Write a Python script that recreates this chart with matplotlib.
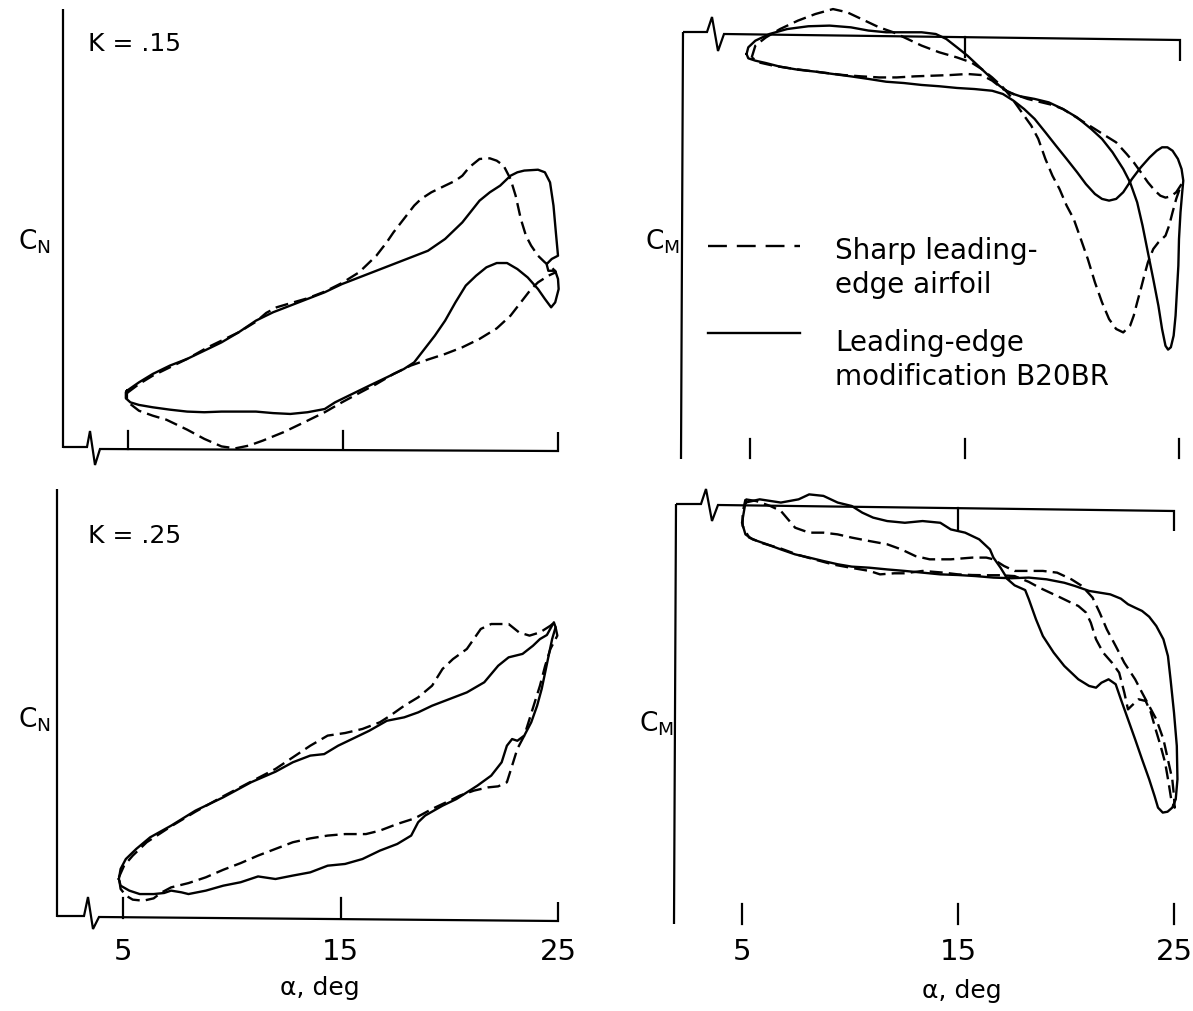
import matplotlib
matplotlib.use("Agg")
import matplotlib.pyplot as plt
from matplotlib.transforms import Affine2D, blended_transform_factory
from matplotlib.lines import Line2D

# ---------------- data (alpha in deg, coefficients in arbitrary units) ----------------
tick_alpha = [5, 15, 25]
tick_labels = ["5", "15", "25"]
legend_labels = ["Sharp leading-\nedge airfoil", "Leading-edge\nmodification B20BR"]
panel_titles = ["K = .15", "K = .25"]

# K = .15, normal force
tl_b20br_alpha = [4.95, 5.51, 6.15, 6.95, 7.75, 8.71, 9.35, 10.15, 10.95, 11.75, 12.55, 13.35, 14.15, 14.95,
                  15.75, 16.55, 17.35, 18.15, 18.95, 19.75, 20.55, 21.35, 21.83, 22.31, 22.79, 23.11, 23.43,
                  24.07, 24.39, 24.63, 24.79, 24.90, 25.00, 24.71, 24.47, 24.55, 24.87, 25.00, 25.03, 24.87,
                  24.68, 24.39, 24.07, 23.59, 23.11, 22.63, 22.15, 21.67, 21.19, 20.71, 20.23, 19.75, 19.27,
                  18.79, 18.31, 17.83, 17.03, 16.23, 15.43, 14.63, 14.15, 13.35, 12.55, 11.75, 10.95, 10.15,
                  9.35, 8.55, 7.75, 6.95, 6.15, 5.51, 5.11, 4.90, 4.90, 4.95]
tl_b20br_cn = [0.271, 0.310, 0.349, 0.388, 0.419, 0.465, 0.496, 0.543, 0.597, 0.636, 0.667, 0.698, 0.729, 0.767,
               0.798, 0.829, 0.860, 0.891, 0.922, 0.977, 1.054, 1.155, 1.194, 1.225, 1.271, 1.287, 1.295,
               1.299, 1.287, 1.240, 1.132, 1.008, 0.899, 0.884, 0.860, 0.829, 0.829, 0.791, 0.744, 0.682,
               0.659, 0.698, 0.744, 0.798, 0.837, 0.865, 0.865, 0.845, 0.806, 0.760, 0.682, 0.597, 0.527,
               0.465, 0.403, 0.372, 0.333, 0.295, 0.256, 0.217, 0.186, 0.171, 0.163, 0.167, 0.174, 0.174,
               0.174, 0.171, 0.174, 0.183, 0.194, 0.205, 0.217, 0.236, 0.264, 0.271]

tl_sharp_alpha = [4.95, 5.51, 6.15, 6.95, 7.75, 8.71, 9.35, 10.15, 10.95, 11.43, 11.91, 12.55, 13.35, 14.15,
                  14.95, 15.75, 16.55, 17.03, 17.35, 17.83, 18.31, 18.63, 19.11, 19.75, 20.23, 20.55, 20.87,
                  21.35, 21.83, 22.15, 22.47, 22.79, 23.03, 23.27, 23.51, 23.75, 24.07, 24.39, 24.71, 24.90,
                  24.55, 24.07, 23.75, 23.27, 22.79, 22.15, 21.35, 20.55, 19.75, 18.95, 18.15, 17.35, 16.55,
                  15.75, 14.95, 14.15, 13.19, 12.23, 11.27, 10.63, 9.99, 9.35, 8.55, 7.75, 6.79, 6.15, 5.51,
                  5.11, 4.95, 4.95]
tl_sharp_cn = [0.260, 0.302, 0.341, 0.380, 0.419, 0.473, 0.504, 0.543, 0.592, 0.633, 0.659, 0.678, 0.701, 0.732,
               0.772, 0.822, 0.899, 0.961, 1.008, 1.070, 1.132, 1.163, 1.194, 1.225, 1.248, 1.271, 1.310,
               1.349, 1.352, 1.341, 1.318, 1.256, 1.178, 1.070, 0.992, 0.946, 0.899, 0.868, 0.845, 0.822,
               0.806, 0.775, 0.744, 0.682, 0.620, 0.561, 0.512, 0.473, 0.442, 0.416, 0.388, 0.349, 0.302,
               0.260, 0.217, 0.171, 0.124, 0.078, 0.039, 0.016, 0.003, 0.012, 0.047, 0.090, 0.136, 0.155,
               0.178, 0.209, 0.233, 0.260]

# K = .15, pitching moment
tr_sharp_alpha = [5.08, 5.25, 5.74, 6.40, 7.23, 8.05, 8.87, 9.53, 10.19, 11.02, 11.68, 12.34, 13.00, 13.82,
                  14.65, 15.31, 15.80, 16.29, 16.79, 17.12, 17.45, 17.78, 18.11, 18.44, 18.77, 19.10, 19.43,
                  19.76, 20.09, 20.42, 20.75, 21.08, 21.41, 21.74, 22.07, 22.40, 22.72, 22.89, 23.05, 23.22,
                  23.38, 23.55, 23.80, 24.04, 24.37, 24.54, 24.70, 24.87, 25.03, 25.12, 24.87, 24.62, 24.37,
                  24.13, 23.88, 23.55, 23.22, 22.89, 22.56, 22.07, 21.57, 21.08, 20.58, 20.09, 19.59, 19.10,
                  18.60, 17.94, 17.28, 16.79, 16.29, 15.80, 15.14, 14.32, 13.49, 12.67, 11.84, 11.02, 10.19,
                  9.37, 8.54, 7.72, 6.90, 6.07, 5.41, 5.08]
tr_sharp_cm = [-0.109, -0.054, -0.016, 0.023, 0.062, 0.093, 0.116, 0.101, 0.070, 0.031, 0.008, -0.023, -0.054,
               -0.085, -0.109, -0.132, -0.163, -0.202, -0.248, -0.287, -0.333, -0.380, -0.426, -0.488, -0.581,
               -0.659, -0.721, -0.798, -0.860, -0.953, -1.047, -1.155, -1.248, -1.326, -1.372, -1.388, -1.357,
               -1.310, -1.248, -1.186, -1.124, -1.062, -1.000, -0.969, -0.938, -0.891, -0.829, -0.767, -0.721,
               -0.698, -0.736, -0.755, -0.761, -0.752, -0.729, -0.690, -0.643, -0.597, -0.558, -0.504, -0.473,
               -0.442, -0.411, -0.380, -0.349, -0.330, -0.318, -0.302, -0.279, -0.256, -0.217, -0.191, -0.186,
               -0.191, -0.194, -0.197, -0.202, -0.202, -0.197, -0.191, -0.181, -0.171, -0.160, -0.147, -0.132,
               -0.109]

tr_b20br_alpha = [4.84, 4.92, 5.25, 5.91, 6.73, 7.72, 8.71, 9.70, 10.52, 11.35, 12.34, 13.00, 13.66, 14.15,
                  14.65, 15.14, 15.63, 16.13, 16.62, 17.04, 17.61, 18.27, 18.93, 19.59, 20.25, 20.91, 21.41,
                  21.90, 22.40, 22.72, 23.05, 23.30, 23.55, 23.80, 24.04, 24.21, 24.37, 24.49, 24.62, 24.75,
                  24.84, 24.90, 24.97, 25.00, 25.07, 25.15, 25.20, 25.12, 24.95, 24.70, 24.46, 24.21, 23.96,
                  23.63, 23.22, 22.81, 22.40, 22.07, 21.74, 21.41, 21.08, 20.66, 20.25, 19.76, 19.26, 18.77,
                  18.27, 17.78, 17.28, 16.79, 16.29, 15.47, 14.65, 13.82, 13.00, 12.17, 11.35, 10.52, 9.70,
                  8.87, 8.05, 7.23, 6.40, 5.74, 5.25, 4.92, 4.84]
tr_b20br_cm = [-0.093, -0.062, -0.031, 0.000, 0.023, 0.036, 0.039, 0.031, 0.016, 0.008, 0.008, 0.008, 0.000,
               -0.023, -0.062, -0.101, -0.147, -0.194, -0.240, -0.271, -0.290, -0.302, -0.318, -0.349, -0.388,
               -0.442, -0.488, -0.550, -0.628, -0.690, -0.783, -0.891, -1.016, -1.140, -1.264, -1.372, -1.450,
               -1.468, -1.457, -1.403, -1.310, -1.202, -1.078, -0.953, -0.829, -0.736, -0.682, -0.628, -0.581,
               -0.543, -0.527, -0.527, -0.543, -0.574, -0.620, -0.674, -0.736, -0.767, -0.775, -0.767, -0.744,
               -0.698, -0.643, -0.581, -0.519, -0.457, -0.395, -0.349, -0.310, -0.279, -0.264, -0.256, -0.251,
               -0.243, -0.237, -0.228, -0.222, -0.209, -0.197, -0.186, -0.175, -0.166, -0.152, -0.135, -0.124,
               -0.113, -0.093]

# K = .25, normal force
bl_b20br_alpha = [4.81, 4.89, 5.13, 5.61, 6.25, 7.21, 8.33, 9.61, 10.89, 12.01, 12.81, 13.61, 14.25, 14.89,
                  15.53, 16.33, 17.13, 17.93, 18.57, 19.21, 20.01, 20.81, 21.61, 22.25, 22.73, 23.37, 23.85,
                  24.17, 24.49, 24.81, 24.89, 24.73, 24.57, 24.41, 24.25, 24.04, 23.77, 23.45, 23.13, 22.89,
                  22.65, 22.41, 21.93, 21.29, 20.81, 20.33, 19.69, 18.89, 18.57, 18.25, 17.61, 16.81, 16.01,
                  15.21, 14.41, 13.61, 12.81, 12.01, 11.21, 10.41, 9.61, 8.81, 8.01, 7.69, 7.21, 6.89, 6.41,
                  5.77, 5.29, 4.89, 4.81]
bl_b20br_cn = [0.186, 0.233, 0.279, 0.326, 0.380, 0.434, 0.504, 0.566, 0.636, 0.685, 0.729, 0.760, 0.767, 0.806,
               0.837, 0.876, 0.922, 0.938, 0.961, 0.992, 1.023, 1.054, 1.101, 1.178, 1.217, 1.233, 1.271,
               1.302, 1.321, 1.380, 1.357, 1.302, 1.225, 1.147, 1.070, 0.992, 0.915, 0.853, 0.829, 0.837,
               0.806, 0.729, 0.667, 0.620, 0.589, 0.558, 0.527, 0.481, 0.450, 0.388, 0.349, 0.318, 0.279,
               0.256, 0.248, 0.217, 0.202, 0.186, 0.198, 0.171, 0.155, 0.132, 0.116, 0.124, 0.132, 0.121,
               0.116, 0.116, 0.132, 0.155, 0.186]

bl_sharp_alpha = [4.81, 5.05, 5.45, 6.09, 7.21, 8.33, 9.61, 10.89, 12.01, 12.81, 13.61, 14.41, 15.21, 16.01,
                  16.81, 17.29, 17.93, 18.57, 19.21, 19.69, 20.17, 20.81, 21.45, 21.93, 22.73, 23.21, 23.69,
                  24.17, 24.65, 24.84, 24.97, 24.65, 24.41, 24.17, 23.93, 23.69, 23.45, 23.13, 22.89, 22.65,
                  22.25, 21.77, 21.13, 20.49, 20.01, 19.21, 18.41, 17.61, 16.81, 16.17, 15.21, 14.41, 13.61,
                  12.81, 12.01, 11.21, 10.41, 9.61, 8.81, 8.01, 7.21, 6.73, 6.41, 5.93, 5.45, 5.13, 4.89, 4.81]
bl_sharp_cn = [0.194, 0.248, 0.295, 0.357, 0.431, 0.499, 0.571, 0.639, 0.698, 0.752, 0.806, 0.853, 0.865, 0.884,
               0.915, 0.946, 0.992, 1.031, 1.085, 1.163, 1.209, 1.256, 1.349, 1.372, 1.372, 1.333, 1.318,
               1.333, 1.364, 1.380, 1.318, 1.256, 1.178, 1.085, 1.008, 0.930, 0.853, 0.791, 0.713, 0.636,
               0.617, 0.612, 0.597, 0.574, 0.550, 0.512, 0.468, 0.442, 0.411, 0.395, 0.395, 0.388, 0.375,
               0.357, 0.326, 0.295, 0.260, 0.229, 0.194, 0.167, 0.147, 0.121, 0.096, 0.085, 0.090, 0.109,
               0.140, 0.194]

# K = .25, pitching moment
br_b20br_alpha = [5.16, 5.82, 6.80, 7.62, 8.11, 8.77, 9.43, 10.08, 10.57, 11.07, 11.72, 12.54, 13.36, 14.18,
                  14.67, 15.33, 15.98, 16.48, 16.64, 16.97, 17.30, 17.62, 18.11, 18.28, 18.61, 18.93, 19.43,
                  19.92, 20.57, 21.07, 21.39, 21.64, 21.97, 22.30, 22.54, 22.87, 23.20, 23.52, 23.85, 24.10,
                  24.26, 24.48, 24.70, 24.92, 25.08, 25.16, 25.13, 25.00, 24.84, 24.72, 24.51, 24.18, 23.85,
                  23.52, 23.20, 22.87, 22.54, 22.05, 21.56, 21.07, 20.41, 19.92, 19.10, 18.28, 17.46, 16.64,
                  15.82, 15.00, 14.18, 13.36, 12.54, 11.72, 10.90, 10.08, 9.43, 8.77, 8.11, 7.46, 6.80, 6.15,
                  5.49, 5.16, 5.00, 5.08, 5.16]
br_b20br_cm = [0.016, 0.031, 0.016, 0.031, 0.054, 0.047, 0.016, 0.000, -0.031, -0.054, -0.070, -0.078, -0.070,
               -0.078, -0.109, -0.124, -0.155, -0.202, -0.240, -0.287, -0.341, -0.369, -0.391, -0.434, -0.527,
               -0.605, -0.682, -0.744, -0.806, -0.837, -0.845, -0.822, -0.806, -0.829, -0.899, -0.992, -1.085,
               -1.178, -1.271, -1.349, -1.403, -1.426, -1.422, -1.403, -1.364, -1.271, -1.116, -0.961, -0.806,
               -0.698, -0.620, -0.558, -0.515, -0.488, -0.473, -0.457, -0.431, -0.411, -0.403, -0.395, -0.372,
               -0.357, -0.341, -0.333, -0.336, -0.333, -0.326, -0.321, -0.318, -0.310, -0.302, -0.295, -0.287,
               -0.282, -0.271, -0.256, -0.240, -0.225, -0.202, -0.178, -0.155, -0.132, -0.078, -0.031, 0.016]

br_sharp_alpha = [5.16, 5.66, 6.31, 6.80, 7.13, 7.46, 8.11, 8.77, 9.43, 10.08, 10.90, 11.72, 12.38, 13.03,
                  13.69, 14.67, 15.66, 16.31, 16.64, 17.13, 17.62, 18.28, 18.93, 19.59, 20.25, 20.74, 21.23,
                  21.56, 21.89, 22.30, 22.70, 23.20, 23.52, 23.85, 24.18, 24.51, 24.75, 24.92, 25.00, 25.03,
                  24.87, 24.75, 24.59, 24.38, 24.15, 23.93, 23.69, 23.36, 23.03, 22.87, 22.70, 22.46, 22.13,
                  21.72, 21.39, 21.15, 20.93, 20.57, 20.16, 19.75, 19.26, 18.77, 18.28, 17.62, 16.97, 16.31,
                  15.66, 15.00, 14.34, 13.36, 12.54, 12.05, 11.39, 10.90, 10.08, 9.26, 8.44, 7.62, 6.80, 5.98,
                  5.33, 5.03, 5.03, 5.16]
br_sharp_cm = [0.031, 0.023, 0.000, -0.023, -0.062, -0.101, -0.124, -0.124, -0.132, -0.147, -0.163, -0.178,
               -0.202, -0.233, -0.248, -0.248, -0.240, -0.240, -0.248, -0.279, -0.302, -0.302, -0.302, -0.310,
               -0.341, -0.372, -0.426, -0.496, -0.574, -0.651, -0.729, -0.806, -0.868, -0.930, -0.992, -1.085,
               -1.194, -1.271, -1.349, -1.403, -1.364, -1.287, -1.194, -1.116, -1.039, -0.961, -0.907, -0.899,
               -0.930, -0.946, -0.868, -0.775, -0.729, -0.682, -0.620, -0.543, -0.496, -0.465, -0.446, -0.426,
               -0.403, -0.380, -0.353, -0.326, -0.322, -0.322, -0.321, -0.318, -0.310, -0.302, -0.313, -0.313,
               -0.318, -0.302, -0.288, -0.273, -0.251, -0.228, -0.198, -0.174, -0.147, -0.093, -0.031, 0.031]

# ---------------- figure / layout ----------------
W, H = 1193, 1012
fig = plt.figure(figsize=(W / 100, H / 100), dpi=100)
fig.patch.set_facecolor("white")
P = Affine2D().scale(1.0 / W, -1.0 / H).translate(0, 1) + fig.transFigure

FONT = "DejaVu Sans"
LW = 1.7
DASH = (0, (5.5, 2.6))


def pline(xs, ys, lw=1.6):
    fig.add_artist(Line2D(xs, ys, transform=P, color="black", lw=lw,
                          solid_joinstyle="miter", solid_capstyle="butt"))


def make_panel(box, x5, ppd, y0, ppu):
    l, t, r, b = box
    ax = fig.add_axes([l / W, 1 - b / H, (r - l) / W, (b - t) / H])
    ax.set_xlim(5 + (l - x5) / ppd, 5 + (r - x5) / ppd)
    ax.set_ylim((y0 - b) / ppu, (y0 - t) / ppu)
    ax.axis("off")
    return ax


def curves(ax, sharp, b20):
    ax.plot(sharp[0], sharp[1], color="black", lw=LW, ls=DASH, clip_on=False)
    ax.plot(b20[0], b20[1], color="black", lw=LW, ls="-", clip_on=False)


def vticks(ax, y_from, y_to, which=tick_alpha):
    tr = blended_transform_factory(ax.transData, P)
    for a in which:
        fig.add_artist(Line2D([a, a], [y_from, y_to], transform=tr, color="black", lw=1.6))


def ticklabels(ax, y):
    tr = blended_transform_factory(ax.transData, P)
    for a, lab in zip(tick_alpha, tick_labels):
        fig.text(a, y, lab, transform=tr, ha="center", va="center", fontsize=21, family=FONT)


# ---- top-left: CN, K=.15
ax_tl = make_panel((40, 0, 600, 480), 128, 21.5, 450, 215)
curves(ax_tl, (tl_sharp_alpha, tl_sharp_cn), (tl_b20br_alpha, tl_b20br_cn))
pline([63, 63], [10, 449])
pline([63, 87, 90, 95, 100, 558, 558], [448, 448, 432, 466, 450, 452, 433])
vticks(ax_tl, 450, 432, tick_alpha[:2])
fig.text(88, 44, panel_titles[0], transform=P, fontsize=18, family=FONT, va="center", ha="left")
fig.text(34, 242, r"$\mathregular{C_N}$", transform=P, fontsize=19, family=FONT, va="center", ha="center")

# ---- top-right: CM, K=.15
ax_tr = make_panel((660, 0, 1193, 480), 750, 21.45, 35, 215)
curves(ax_tr, (tr_sharp_alpha, tr_sharp_cm), (tr_b20br_alpha, tr_b20br_cm))
pline([683, 681], [33, 460])
pline([683, 707, 712, 718, 724, 1180, 1180], [33, 33, 18, 52, 35, 41, 62])
vticks(ax_tr, 38, 58, [15])
vticks(ax_tr, 440, 459)
fig.text(662, 242, r"$\mathregular{C_M}$", transform=P, fontsize=19, family=FONT, va="center", ha="center")

# legend
fig.add_artist(Line2D([708, 800], [247, 247], transform=P, color="black", lw=LW, ls=(0, (8, 4.2))))
fig.add_artist(Line2D([708, 800], [334, 334], transform=P, color="black", lw=LW))
l1, l2 = legend_labels
fig.text(835, 268, l1, transform=P, fontsize=20, family=FONT, va="center", ha="left", linespacing=1.3)
fig.text(835, 360, l2, transform=P, fontsize=20, family=FONT, va="center", ha="left", linespacing=1.3)

# ---- bottom-left: CN, K=.25
ax_bl = make_panel((40, 480, 600, 940), 123, 21.75, 920, 215)
curves(ax_bl, (bl_sharp_alpha, bl_sharp_cn), (bl_b20br_alpha, bl_b20br_cn))
pline([57, 57], [490, 918])
pline([57, 84, 88, 93, 99, 558, 558], [917, 917, 898, 930, 918, 922, 903])
vticks(ax_bl, 919, 899, tick_alpha[:2])
ticklabels(ax_bl, 952)
fig.text(320, 988, "α, deg", transform=P, fontsize=18, family=FONT, va="center", ha="center")
fig.text(88, 536, panel_titles[1], transform=P, fontsize=18, family=FONT, va="center", ha="left")
fig.text(34, 720, r"$\mathregular{C_N}$", transform=P, fontsize=19, family=FONT, va="center", ha="center")

# ---- bottom-right: CM, K=.25
ax_br = make_panel((660, 480, 1193, 940), 742, 21.6, 507, 215)
curves(ax_br, (br_sharp_alpha, br_sharp_cm), (br_b20br_alpha, br_b20br_cm))
pline([676, 674], [505, 925])
pline([676, 701, 706, 712, 718, 1174, 1174], [505, 505, 490, 522, 506, 512, 532])
vticks(ax_br, 509, 530, [15])
vticks(ax_br, 905, 925)
ticklabels(ax_br, 952)
fig.text(962, 991, "α, deg", transform=P, fontsize=18, family=FONT, va="center", ha="center")
fig.text(656, 724, r"$\mathregular{C_M}$", transform=P, fontsize=19, family=FONT, va="center", ha="center")

fig.savefig("out.png", dpi=100, facecolor="white")
